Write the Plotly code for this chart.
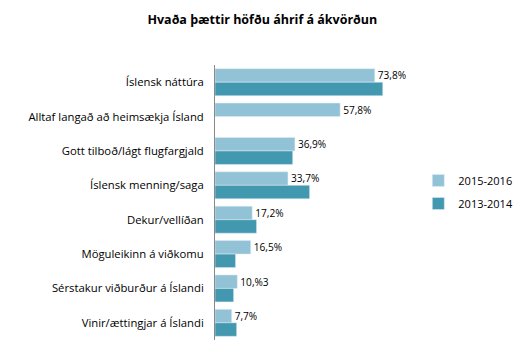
import plotly.graph_objects as go

categories = ["Íslensk náttúra", "Alltaf langað að heimsækja Ísland", "Gott tilboð/lágt flugfargjald",
              "Íslensk menning/saga", "Dekur/vellíðan", "Möguleikinn á viðkomu",
              "Sérstakur viðburður á Íslandi", "Vinir/ættingjar á Íslandi"]
s2015 = [73.8, 57.8, 36.9, 33.7, 17.2, 16.5, 10.3, 7.7]
s2015_labels = ["73,8%", "57,8%", "36,9%", "33,7%", "17,2%", "16,5%", "10,%3", "7,7%"]
s2013 = [77.5, None, 35.9, 43.7, 19.2, 9.5, 8.6, 10.0]

FONT = "Open Sans"
fig = go.Figure()
fig.add_trace(go.Bar(y=categories, x=s2015, orientation="h", name="2015-2016",
                     marker_color="#92C2D5", text=s2015_labels, textposition="outside",
                     textfont=dict(size=10.5, color="#000000", family=FONT), cliponaxis=False,
                     legend="legend"))
fig.add_trace(go.Bar(y=categories, x=s2013, orientation="h", name="2013-2014",
                     marker_color="#4198AF", legend="legend2"))

leg_common = dict(x=1.105, xanchor="left", yanchor="top",
                  font=dict(family=FONT, size=11, color="#000000"),
                  itemwidth=30, bgcolor="rgba(0,0,0,0)")

fig.update_layout(
    width=530, height=353,
    margin=dict(l=215, r=131, t=65, b=13, autoexpand=False),
    paper_bgcolor="white", plot_bgcolor="white",
    barmode="group", bargap=0.215, bargroupgap=0,
    title=dict(text="<b>Hvaða þættir höfðu áhrif á ákvörðun</b>", x=0.495, xanchor="center",
               y=0.945, yanchor="middle", font=dict(family=FONT, size=12.5, color="#000000")),
    font=dict(family=FONT, size=10, color="#000000"),
    xaxis=dict(range=[0, 85], visible=False, showgrid=False, zeroline=False),
    yaxis=dict(autorange="reversed", showline=True, linecolor="#898989", linewidth=1,
               ticks="", showgrid=False, ticklabelstandoff=8,
               tickfont=dict(family=FONT, size=11.3, color="#000000")),
    legend=dict(y=0.633, **leg_common),
    legend2=dict(y=0.549, **leg_common),
    showlegend=True,
)
fig.write_html("out.html")
